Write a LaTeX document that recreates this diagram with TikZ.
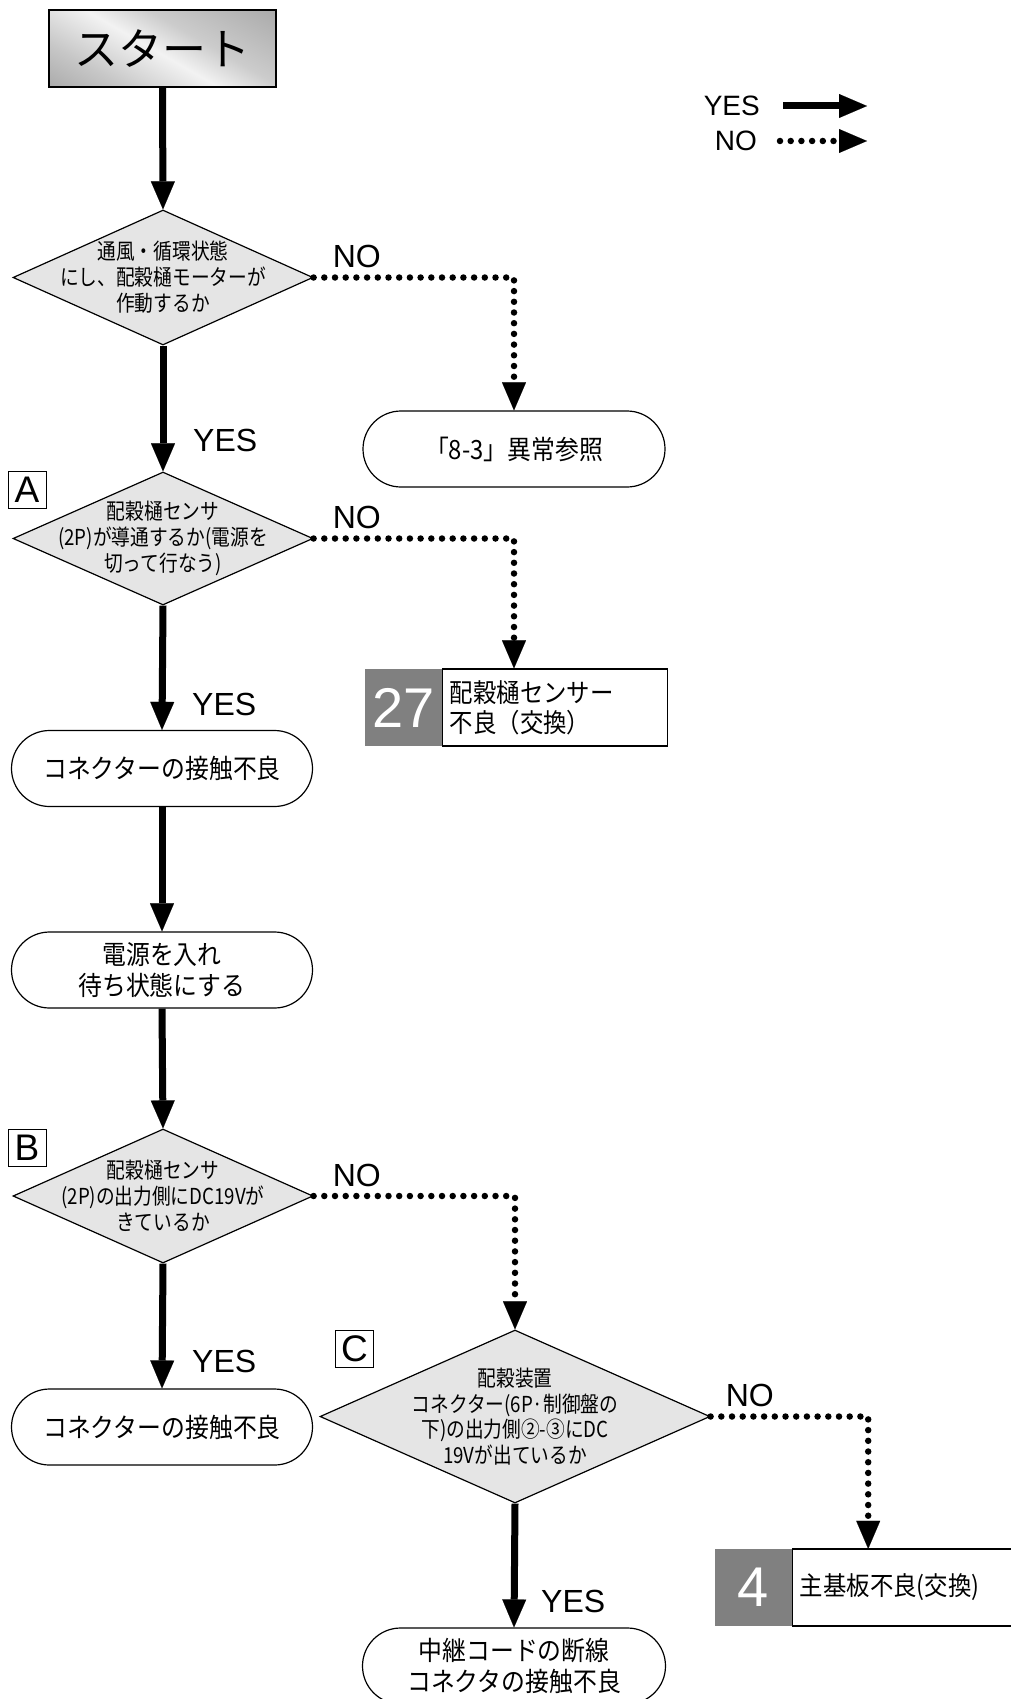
\documentclass[tikz,border=0pt]{standalone}
\usepackage{fontspec}
\setmainfont{Noto Sans CJK JP}
\newfontfamily\narrowfont[FakeStretch=0.85]{Noto Sans CJK JP}
\newfontfamily\boxfont[FakeStretch=0.9]{Noto Sans CJK JP}
\newfontfamily\latinfont{Liberation Sans}
\usetikzlibrary{shapes.geometric, arrows.meta, positioning, calc}

\pgfdeclarehorizontalshading{silver}{100bp}{color(0bp)=(black!45); color(30bp)=(black!22); color(48bp)=(black!5); color(60bp)=(black!20); color(100bp)=(black!42)}

\tikzset{
  yesline/.style={line width=7pt, -{Triangle[width=24pt,length=28pt,line width=0.1pt]}},
  noline/.style={line width=6.5pt, line cap=round, dash pattern=on 0pt off 10.7pt,
    -{Triangle[width=24pt,length=28pt,line width=0.1pt]}},
  startbox/.style={draw, line width=1.5pt, shading=silver, shading angle=60,
    minimum width=227pt, minimum height=77pt, font=\fontsize{44}{50}\selectfont},
  decision/.style={diamond, draw, line width=1.2pt, fill=black!10, inner sep=0pt},
  dtext/.style={align=center, font=\narrowfont\fontsize{22}{26}\selectfont},
  terminal/.style={draw, line width=1.2pt, rounded corners=38pt, minimum width=302pt,
    minimum height=76pt, align=center, font=\boxfont\fontsize{26.5}{31}\selectfont},
  numbox/.style={fill=black!50, text=white, minimum width=77pt, minimum height=77pt,
    inner sep=0pt, font=\latinfont\fontsize{56}{60}\selectfont},
  resbox/.style={draw, line width=1.2pt, anchor=west, minimum height=77pt, inner sep=7pt,
    align=left, font=\boxfont\fontsize{26}{30}\selectfont},
  tagbox/.style={draw, line width=1pt, minimum width=38pt, minimum height=37pt,
    inner sep=0pt, font=\latinfont\fontsize{37}{37}\selectfont},
  yesno/.style={font=\latinfont\fontsize{32}{32}\selectfont, inner sep=0pt},
  legend/.style={font=\latinfont\fontsize{28}{28}\selectfont, inner sep=0pt, anchor=east}
}

\begin{document}
\begin{tikzpicture}[x=1pt, y=-1pt]

\useasboundingbox (0,0) rectangle (1010,1699);

% legend
\node[legend] (legyes) at (760,106) {YES};
\node[legend] (legno) at (757,141) {NO};
\coordinate (legyesend) at (867,106);
\coordinate (legnoend) at (867,141);
\draw[yesline] ([xshift=23pt]legyes.east) -- (legyesend);
\draw[noline] ([xshift=23pt]legno.east) -- (legnoend);

% nodes
\node[startbox] (start) at (162.5,48.5) {スタート};

\node[decision, minimum width=300pt, minimum height=135pt] (d1) at (163,277.5) {};
\node[dtext] (d1t) at (d1) {通風・循環状態\\にし、配穀樋モーターが\\作動するか};

\node[terminal] (ok83) at (514,449) {「8-3」異常参照};

\node[decision, minimum width=300pt, minimum height=133pt] (dA) at (163,538.5) {};
\node[dtext] (dAt) at (dA) {配穀樋センサ\\(2P)が導通するか(電源を\\切って行なう)};
\node[tagbox] (tagA) at (27,490) {A};

\node[numbox] (n27) at (403.5,707.5) {27};
\node[resbox, minimum width=225pt, text width=211pt] (r27) at (n27.east)
  {配穀樋センサー\\不良（交換）};

\node[terminal, minimum width=301pt] (t1) at (162,768.5) {コネクターの接触不良};
\node[terminal, minimum width=301pt] (t2) at (162,970) {電源を入れ\\待ち状態にする};

\node[decision, minimum width=300pt, minimum height=134pt] (dB) at (163,1196) {};
\node[dtext] (dBt) at (dB) {配穀樋センサ\\(2P)の出力側にDC19Vが\\きているか};
\node[tagbox] (tagB) at (27,1148) {B};

\node[terminal, minimum width=301pt] (t3) at (162,1427) {コネクターの接触不良};

\node[decision, minimum width=390pt, minimum height=173pt] (dC) at (515,1416.5) {};
\node[dtext, font=\narrowfont\fontsize{22}{25.5}\selectfont] (dCt) at (dC)
  {配穀装置\\コネクター(6P·制御盤の\\下)の出力側②-③にDC\\19Vが出ているか};
\node[tagbox] (tagC) at (354.5,1348.5) {C};

\node[terminal, minimum width=303pt] (t4) at (514,1666) {中継コードの断線\\コネクタの接触不良};

\node[numbox] (n4) at (753.5,1587.5) {4};
\node[resbox, minimum width=240pt, text width=226pt] (r4) at (n4.east) {主基板不良(交換)};
\coordinate (r4in) at ($(n4.north east)+(76,0)$);

% connectors
\draw[yesline] (start.south) -- (d1.north);
\draw[noline] (d1.east) -| (ok83.north);
\draw[yesline] (d1.south) -- (dA.north);
\draw[noline] (dA.east) -| (r27.north -| ok83.north);
\draw[yesline] (dA.south) -- (t1.north);
\draw[yesline] (t1.south) -- (t2.north);
\draw[yesline] (t2.south) -- (dB.north);
\draw[noline] (dB.east) -| (dC.north);
\draw[yesline] (dB.south) -- (t3.north);
\draw[noline] (dC.east) -| (r4in);
\draw[yesline] (dC.south) -- (t4.north);

% yes / no labels
\node[yesno, anchor=base west] (no1) at ($(d1.east)+(19,-10)$) {NO};
\node[yesno, anchor=base west] (no2) at ($(dA.east)+(19,-10)$) {NO};
\node[yesno, anchor=base west] (no3) at ($(dB.east)+(19,-10)$) {NO};
\node[yesno, anchor=base west] (no4) at ($(dC.east)+(15,-10)$) {NO};
\node[yesno, anchor=west] (yes1) at ($(dA.north)+(30,-31)$) {YES};
\node[yesno, anchor=west] (yes2) at ($(t1.north)+(30,-25)$) {YES};
\node[yesno, anchor=west] (yes3) at ($(t3.north)+(30,-27)$) {YES};
\node[yesno, anchor=west] (yes4) at ($(t4.north)+(27,-26)$) {YES};

\end{tikzpicture}
\end{document}
